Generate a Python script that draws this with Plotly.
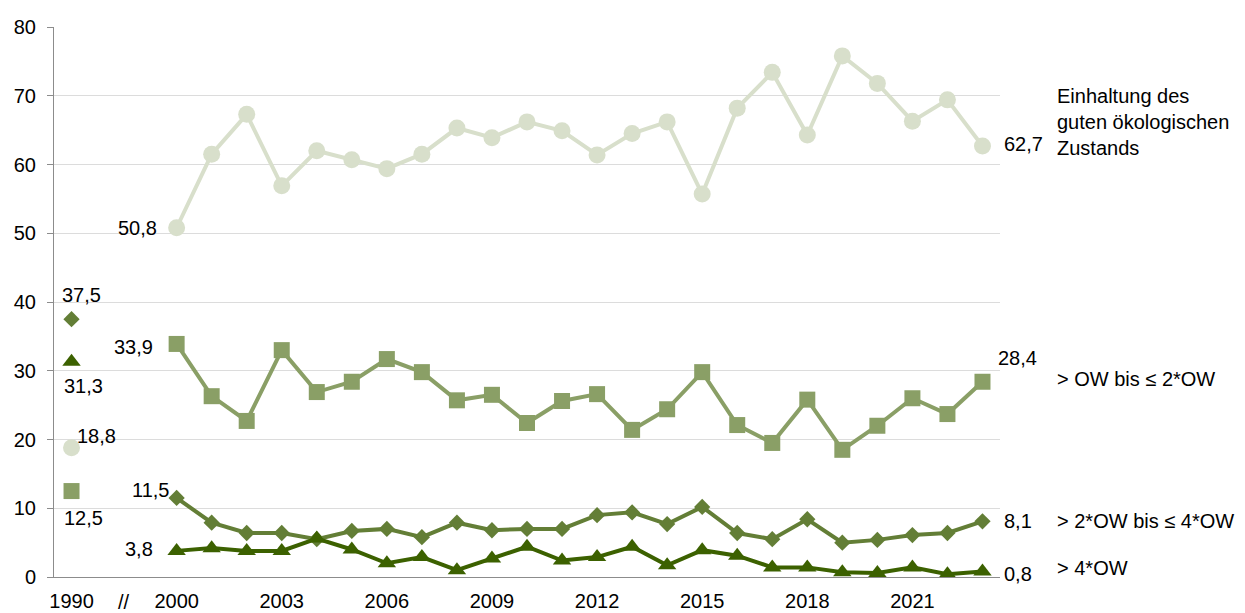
import plotly.graph_objects as go

# ---- data ----
years = [str(y) for y in range(2000, 2024)]
categories = ["1990", " ", "  "] + years
tick_labels = ["1990", "2000", "2003", "2006", "2009", "2012", "2015", "2018", "2021"]

good_1990 = 18.8
good = [50.8, 61.5, 67.3, 56.9, 62.0, 60.7, 59.4, 61.5, 65.3, 63.9, 66.2, 64.9,
        61.4, 64.5, 66.2, 55.7, 68.2, 73.4, 64.3, 75.8, 71.8, 66.3, 69.4, 62.7]
ow2_1990 = 12.5
ow2 = [33.9, 26.3, 22.7, 33.0, 26.9, 28.4, 31.7, 29.8, 25.7, 26.5, 22.4, 25.6,
       26.6, 21.4, 24.4, 29.8, 22.1, 19.5, 25.8, 18.5, 22.0, 26.0, 23.7, 28.4]
ow4_1990 = 37.5
ow4 = [11.5, 7.9, 6.4, 6.4, 5.5, 6.7, 7.0, 5.8, 7.9, 6.8, 7.0, 7.0,
       9.0, 9.4, 7.7, 10.2, 6.4, 5.5, 8.4, 5.0, 5.4, 6.1, 6.4, 8.1]
over4_1990 = 31.3
over4 = [3.8, 4.2, 3.8, 3.8, 5.6, 4.0, 2.0, 2.9, 1.0, 2.7, 4.4, 2.4,
         2.9, 4.4, 1.7, 3.9, 3.1, 1.4, 1.4, 0.7, 0.6, 1.4, 0.4, 0.8]

names = ["Einhaltung des<br>guten ökologischen<br>Zustands", "> OW bis ≤ 2*OW",
         "> 2*OW bis ≤ 4*OW", "> 4*OW"]

# ---- style ----
FONT = "Arial, 'Liberation Sans', sans-serif"
FS = 20
c_good, c_ow2, c_ow4, c_over4 = "#d8dfcb", "#8a9f66", "#637e36", "#3c6100"

fig = go.Figure()
series = [
    (good, good_1990, c_good, "circle", 17),
    (ow2, ow2_1990, c_ow2, "square", 16),
    (ow4, ow4_1990, c_ow4, "diamond", 12.5),
    (over4, over4_1990, c_over4, "triangle-up", 16),
]
for vals, v90, col, sym, sz in series:
    fig.add_trace(go.Scatter(x=years, y=vals, mode="lines+markers",
                             line=dict(color=col, width=4),
                             marker=dict(symbol=sym, size=sz, color=col),
                             hoverinfo="skip"))
    fig.add_trace(go.Scatter(x=["1990"], y=[v90], mode="markers",
                             marker=dict(symbol=sym, size=sz, color=col),
                             hoverinfo="skip"))

def fmt(v):
    return f"{v:.1f}".replace(".", ",")

ann = []
def lab(cat, y, text, xanchor="center", xshift=0, yshift=0):
    ann.append(dict(x=categories.index(cat), y=y, xref="x", yref="y", text=text,
                    showarrow=False, xanchor=xanchor, yanchor="middle",
                    xshift=xshift, yshift=yshift, align="left",
                    font=dict(family=FONT, size=FS, color="#000")))

# 1990 labels
lab("1990", ow4_1990, fmt(ow4_1990), xshift=10, yshift=24)
lab("1990", over4_1990, fmt(over4_1990), xshift=12, yshift=-24)
lab("1990", good_1990, fmt(good_1990), xanchor="left", xshift=3, yshift=12)
lab("1990", ow2_1990, fmt(ow2_1990), xshift=12, yshift=-27)
# 2000 labels
lab("2000", good[0], fmt(good[0]), xanchor="right", xshift=-18, yshift=0)
lab("2000", ow2[0], fmt(ow2[0]), xanchor="right", xshift=-22, yshift=-3)
lab("2000", ow4[0], fmt(ow4[0]), xanchor="right", xshift=-6, yshift=8)
lab("2000", over4[0], fmt(over4[0]), xanchor="right", xshift=-22, yshift=2)
# 2023 labels
lab("2023", good[-1], fmt(good[-1]), xanchor="left", xshift=20, yshift=2)
lab("2023", ow2[-1], fmt(ow2[-1]), xanchor="left", xshift=14, yshift=24)
lab("2023", ow4[-1], fmt(ow4[-1]), xanchor="left", xshift=20, yshift=0)
lab("2023", over4[-1], fmt(over4[-1]), xanchor="left", xshift=20, yshift=-2)
# series names
lab("2023", 64.9, names[0], xanchor="left", xshift=73, yshift=9)
lab("2023", 28.4, names[1], xanchor="left", xshift=73, yshift=3)
lab("2023", ow4[-1], names[2], xanchor="left", xshift=73)
lab("2023", 1.3, names[3], xanchor="left", xshift=73)

# axis break marker
ann.append(dict(x=1.5, y=0, xref="x", yref="paper", text="//", showarrow=False,
                yanchor="middle", yshift=-25,
                font=dict(family=FONT, size=FS, color="#000")))

# page body has an 8px default margin: size the figure so it fits the window
fig.update_layout(
    width=1237, height=605,
    margin=dict(l=46, r=245, t=19, b=36),
    paper_bgcolor="white", plot_bgcolor="white",
    showlegend=False, hovermode=False,
    font=dict(family=FONT, size=FS, color="#000"),
    annotations=ann,
)
fig.update_xaxes(type="category", categoryorder="array", categoryarray=categories,
                 range=[-0.5, 26.5], tickvals=tick_labels, ticktext=tick_labels,
                 showgrid=False, showline=True, linecolor="#8c8c8c", linewidth=1,
                 ticks="", ticklabelstandoff=6, automargin=False,
                 tickfont=dict(family=FONT, size=FS, color="#000"))
fig.update_yaxes(range=[0, 80], dtick=10, showgrid=True, gridcolor="#dcdcdc", gridwidth=1,
                 zeroline=False, showline=True, linecolor="#8c8c8c", linewidth=1,
                 ticks="outside", ticklen=6, tickcolor="#8c8c8c", ticklabelstandoff=7,
                 automargin=False,
                 tickfont=dict(family=FONT, size=FS, color="#000"))

fig.write_html("out.html")
